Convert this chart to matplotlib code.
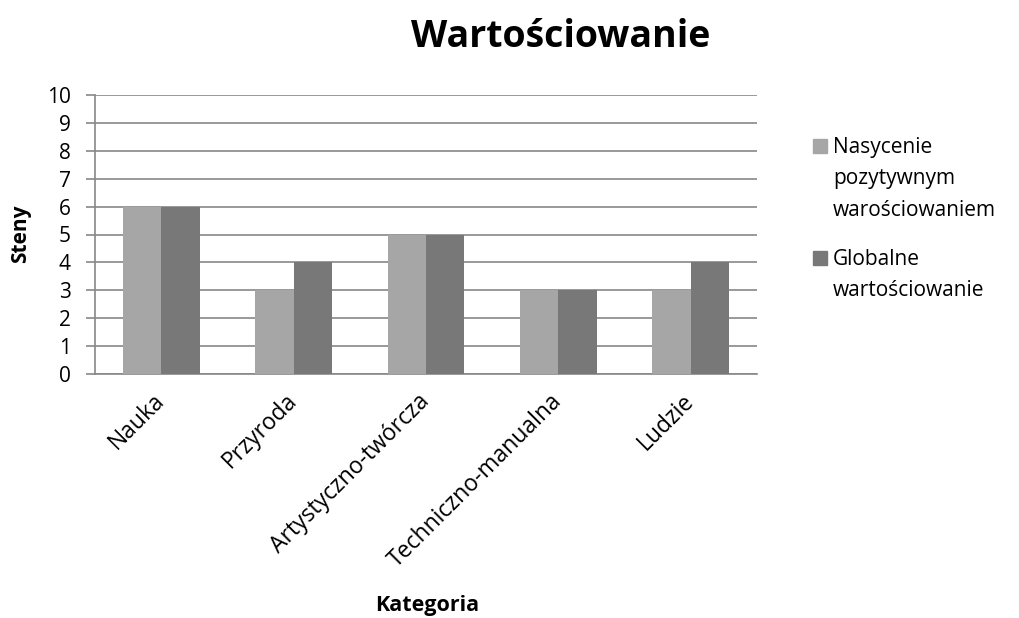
import matplotlib.pyplot as plt
from matplotlib.patches import Rectangle
import numpy as np

categories = ["Nauka", "Przyroda", "Artystyczno-twórcza", "Techniczno-manualna", "Ludzie"]
nasycenie = [6, 3, 5, 3, 3]
globalne = [6, 4, 5, 3, 4]
series_labels = ["Nasycenie\npozytywnym\nwarościowaniem", "Globalne\nwartościowanie"]
colors = ['#a6a6a6', '#787878']

plt.rcParams['font.family'] = ['Open Sans', 'DejaVu Sans']

W, H = 1020, 618
fig = plt.figure(figsize=(W/100, H/100), dpi=100)
ax = fig.add_axes([95/W, 1 - 374/H, (757-95)/W, (374-95)/H])

x = np.arange(len(categories))
w = 0.29
ax.bar(x - w/2, nasycenie, w, color=colors[0], zorder=3)
ax.bar(x + w/2, globalne, w, color=colors[1], zorder=3)

ax.set_xlim(-0.5, len(categories) - 0.5)
ax.set_ylim(0, 10)
ax.set_yticks(range(0, 11))
ax.tick_params(axis='y', labelsize=15, length=6.5, width=1.2, color='#888888', direction='out', pad=11)
ax.tick_params(axis='x', length=0, labelsize=16.5, pad=17)
ax.set_xticks(x)
ax.set_xticklabels(categories, rotation=45, ha='right', va='center', rotation_mode='anchor')
ax.yaxis.grid(True, color='#888888', linewidth=1.2, zorder=0)
for s in ['top', 'right']:
    ax.spines[s].set_visible(False)
for s in ['left', 'bottom']:
    ax.spines[s].set_color('#888888')
    ax.spines[s].set_linewidth(1.2)

fig.text(21/W, 1 - 234/H, "Steny", fontsize=15, fontweight='bold', rotation=90, ha='center', va='center')
fig.text(427/W, 1 - 606/H, "Kategoria", fontsize=15.5, fontweight='bold', ha='center', va='center')
fig.text(561/W, 1 - 37/H, "Wartościowanie", fontsize=27, fontweight='bold', ha='center', va='center')

# legenda rysowana recznie, zeby kwadrat byl przy pierwszej linii
leg_tops = [137, 249]
for lbl, col, top in zip(series_labels, colors, leg_tops):
    fig.patches.append(Rectangle((813/W, 1 - (top + 16)/H), 14/W, 14/H,
                                 transform=fig.transFigure, color=col, figure=fig))
    fig.text(833/W, 1 - top/H, lbl, fontsize=15, ha='left', va='top', linespacing=1.65)

plt.savefig("out.png", dpi=100)
